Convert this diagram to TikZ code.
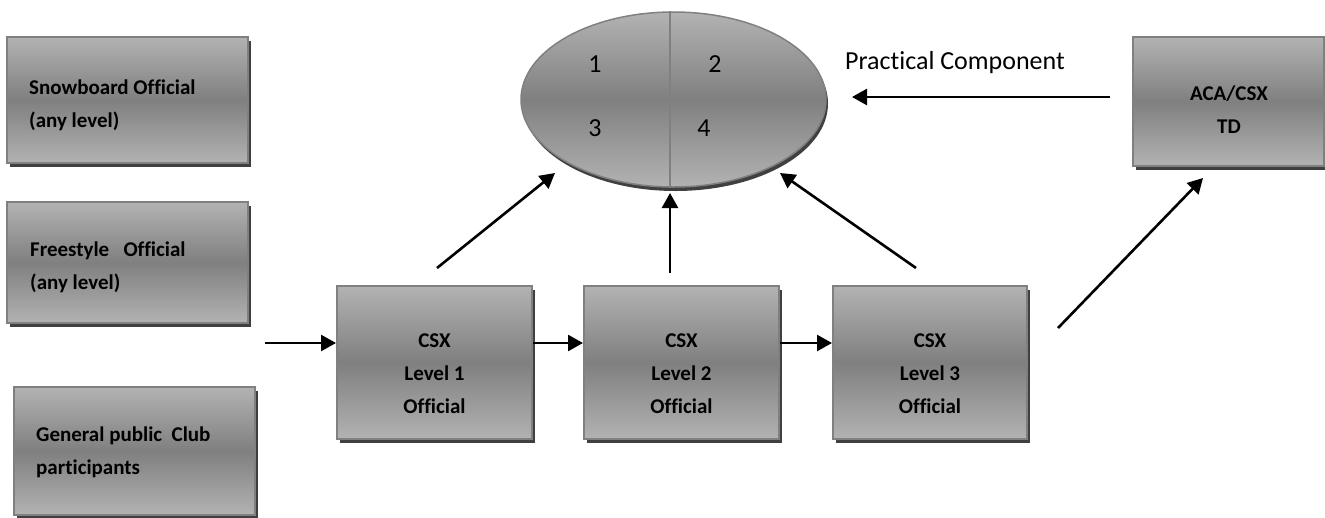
\documentclass[tikz,border=0pt]{standalone}
\usepackage{fontspec}
\setmainfont[Ligatures={NoCommon,NoContextual}]{Carlito}
\usetikzlibrary{shapes.geometric,shadows,arrows.meta}
\definecolor{gl}{gray}{0.70}
\definecolor{gd}{gray}{0.50}
\definecolor{bord}{gray}{0.50}
\definecolor{shad}{gray}{0.25}
\tikzset{
  gbox/.style={rectangle, draw=bord, line width=2pt, top color=gl, bottom color=gl, middle color=gd,
    general shadow={fill=shad, shadow xshift=3pt, shadow yshift=-4pt}},
  btext/.style={font=\bfseries\fontsize{21}{33}\selectfont, inner sep=0pt},
  ntext/.style={font=\fontsize{26}{30}\selectfont, inner sep=0pt},
  arr/.style={line width=2.6pt, -{Triangle[length=15pt,width=16pt]}},
}
\begin{document}
\begin{tikzpicture}[x=1pt,y=-1pt]
\useasboundingbox (0,0) rectangle (1325,517);
% boxes
\node[gbox, minimum width=241pt, minimum height=126pt] (snow) at (127.5,100) {};
\node[gbox, minimum width=241pt, minimum height=121pt] (free) at (127.5,262.5) {};
\node[gbox, minimum width=241pt, minimum height=128pt] (gen) at (134.5,451) {};
\node[gbox, minimum width=195pt, minimum height=153pt] (l1) at (434.5,362.5) {};
\node[gbox, minimum width=195pt, minimum height=153pt] (l2) at (681.5,362.5) {};
\node[gbox, minimum width=194pt, minimum height=153pt] (l3) at (930,362.5) {};
\node[gbox, minimum width=191pt, minimum height=129pt] (aca) at (1228.5,101.5) {};
% ellipse
\node[ellipse, draw=bord, line width=1.5pt, top color=gl, bottom color=gl, middle color=gd,
  minimum width=305pt, minimum height=175pt, inner sep=0pt,
  general shadow={fill=shad, shadow xshift=2pt, shadow yshift=-4pt}] (el) at (673.5,99.5) {};
\draw[bord, line width=1.5pt] ([xshift=-3.5pt]el.north) -- ([xshift=-3.5pt]el.south);
% texts
\node[btext, anchor=west, align=left] (tsnow) at (29,105.5) {Snowboard Official\\(any level)};
\node[btext, anchor=west, align=left] (tfree) at (30,267.5) {Freestyle\ \ \ Official\\(any level)};
\node[btext, anchor=west, align=left] (tgen) at (36,452.5) {General public\ \ Club\\participants};
\node[btext, align=center] (tl1) at (434.5,373.5) {CSX\\Level 1\\Official};
\node[btext, align=center] (tl2) at (681.5,373.5) {CSX\\Level 2\\Official};
\node[btext, align=center] (tl3) at (930,373.5) {CSX\\Level 3\\Official};
\node[btext, align=center] (taca) at (1229,109.5) {ACA/CSX\\TD};
\node[ntext] (n1) at (595,64) {1};
\node[ntext] (n2) at (715,64) {2};
\node[ntext] (n3) at (595,128) {3};
\node[ntext] (n4) at (704,128) {4};
\node[ntext, anchor=west] (pc) at (845,63) {Practical Component};
% free ends
\coordinate (cin) at (265,343);
\coordinate (c1s) at (437,268);
\coordinate (c1e) at (555,173);
\coordinate (c2s) at (670,273);
\coordinate (c2e) at (670,193);
\coordinate (c3s) at (916,268);
\coordinate (c3e) at (780,173);
\coordinate (c4s) at (1058,328);
\coordinate (c4e) at (1203,178);
\coordinate (c5s) at (1110,97);
\coordinate (c5e) at (852,97);
% arrows
\draw[arr] (cin) -- (cin -| l1.west);
\draw[arr] (l1.east |- cin) -- (l2.west |- cin);
\draw[arr] (l2.east |- cin) -- (l3.west |- cin);
\draw[arr] (c1s) -- (c1e);
\draw[arr] (c2s) -- (c2e);
\draw[arr] (c3s) -- (c3e);
\draw[arr] (c4s) -- (c4e);
\draw[arr] (c5s) -- (c5e);
\end{tikzpicture}
\end{document}
